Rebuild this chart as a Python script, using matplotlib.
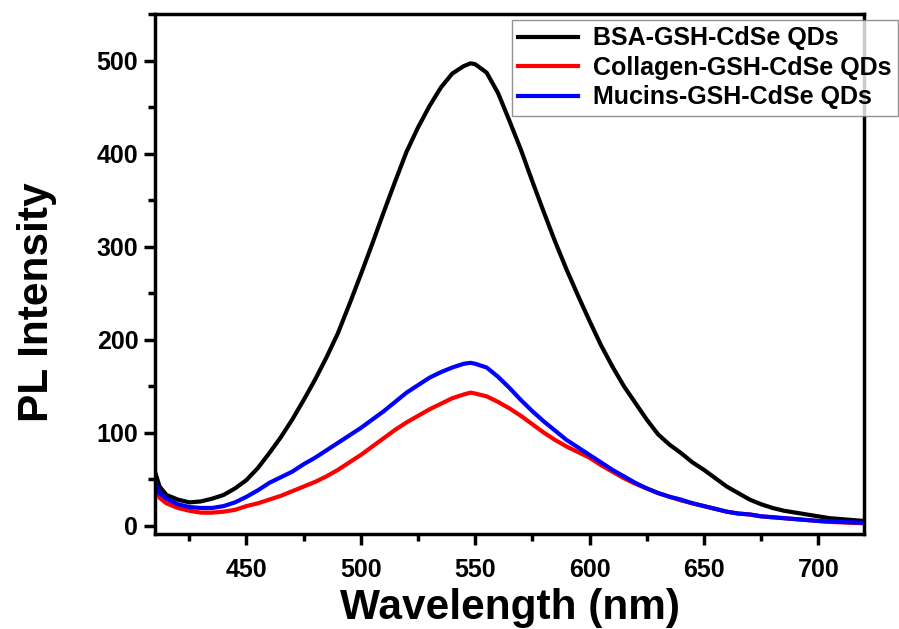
import matplotlib
matplotlib.use("Agg")
import matplotlib.pyplot as plt
from matplotlib.ticker import MultipleLocator

plt.rcParams['font.family'] = ['Liberation Sans', 'DejaVu Sans']
plt.rcParams['font.weight'] = 'bold'

wavelength = [410, 412, 415, 420, 425, 430, 435, 440, 445, 450, 455, 460, 465, 470, 475,
              480, 485, 490, 495, 500, 505, 510, 515, 520, 525, 530, 535, 540, 545, 548,
              550, 555, 560, 565, 570, 575, 580, 585, 590, 595, 600, 605, 610, 615, 620,
              625, 630, 635, 640, 645, 650, 655, 660, 665, 670, 675, 680, 685, 690, 695,
              700, 705, 710, 715, 720]

bsa = [58, 42, 33, 28, 25, 26, 29, 33, 40, 49, 62, 78, 95, 114, 135,
       157, 181, 207, 238, 270, 303, 337, 370, 402, 428, 451, 471, 486, 494, 497,
       496, 487, 465, 435, 404, 370, 337, 305, 275, 247, 220, 194, 171, 150, 132,
       114, 98, 87, 78, 68, 60, 51, 42, 35, 28, 23, 19, 16, 14, 12,
       10, 8, 7, 6, 5]

collagen = [42, 30, 24, 19, 16, 14, 14, 15, 17, 21, 24, 28, 32, 37, 42,
            47, 53, 60, 68, 76, 85, 94, 103, 111, 118, 125, 131, 137, 141, 143,
            142, 139, 133, 126, 118, 109, 100, 92, 85, 79, 73, 65, 58, 51, 45,
            40, 35, 31, 27, 24, 21, 18, 15, 13, 12, 10, 9, 8, 7, 6,
            5, 4, 3.5, 3, 2.5]

mucins = [47, 35, 29, 23, 20, 19, 19, 21, 25, 31, 38, 46, 52, 58, 66,
          73, 81, 89, 97, 105, 114, 123, 133, 143, 151, 159, 165, 170, 174, 175,
          174, 170, 160, 148, 135, 123, 112, 102, 92, 84, 76, 68, 60, 53, 46,
          40, 35, 31, 28, 24, 21, 18, 15, 13, 12, 10, 9, 8, 7, 6,
          5, 4.5, 4, 3.5, 3]

labels = ['BSA-GSH-CdSe QDs', 'Collagen-GSH-CdSe QDs', 'Mucins-GSH-CdSe QDs']
colors = ['#000000', '#ff0000', '#0000ff']

fig = plt.figure(figsize=(8.99, 6.29), dpi=100)
ax = fig.add_axes([155/899, 1-534/629, (864-155)/899, (534-14)/629])

for ys, lab, col in zip([bsa, collagen, mucins], labels, colors):
    ax.plot(wavelength, ys, color=col, lw=3.0, label=lab, solid_joinstyle='round')

ax.set_xlim(410, 720)
ax.set_ylim(-9, 550)
ax.xaxis.set_major_locator(MultipleLocator(50))
ax.xaxis.set_minor_locator(MultipleLocator(25))
ax.yaxis.set_major_locator(MultipleLocator(100))
ax.yaxis.set_minor_locator(MultipleLocator(50))
ax.tick_params(which='major', direction='out', length=8, width=2.5, labelsize=18, pad=4)
ax.tick_params(axis='x', which='major', pad=9)
ax.tick_params(which='minor', direction='out', length=5, width=2.5)
ax.tick_params(top=False, right=False)
for lab in ax.get_xticklabels() + ax.get_yticklabels():
    lab.set_fontweight('bold')
for sp in ax.spines.values():
    sp.set_linewidth(2.5)

ax.set_xlabel('Wavelength (nm)', fontsize=30.5, fontweight='bold')
ax.set_ylabel('PL Intensity', fontsize=30.5, fontweight='bold')
ax.xaxis.set_label_coords(0.5, (534-588)/520)
ax.yaxis.set_label_coords((57-155)/709, (534-302)/520)

leg = ax.legend(loc='upper right', bbox_to_anchor=(898/899, 1-20/629),
                bbox_transform=fig.transFigure, fontsize=18, frameon=True,
                fancybox=False, edgecolor='#777777', handlelength=2.4,
                handletextpad=0.6, labelspacing=0.22, borderpad=0.25,
                borderaxespad=0)
leg.get_frame().set_linewidth(1.0)
for t in leg.get_texts():
    t.set_fontweight('bold')
for h in leg.get_lines():
    h.set_linewidth(3)

fig.savefig('out.png', dpi=100)
